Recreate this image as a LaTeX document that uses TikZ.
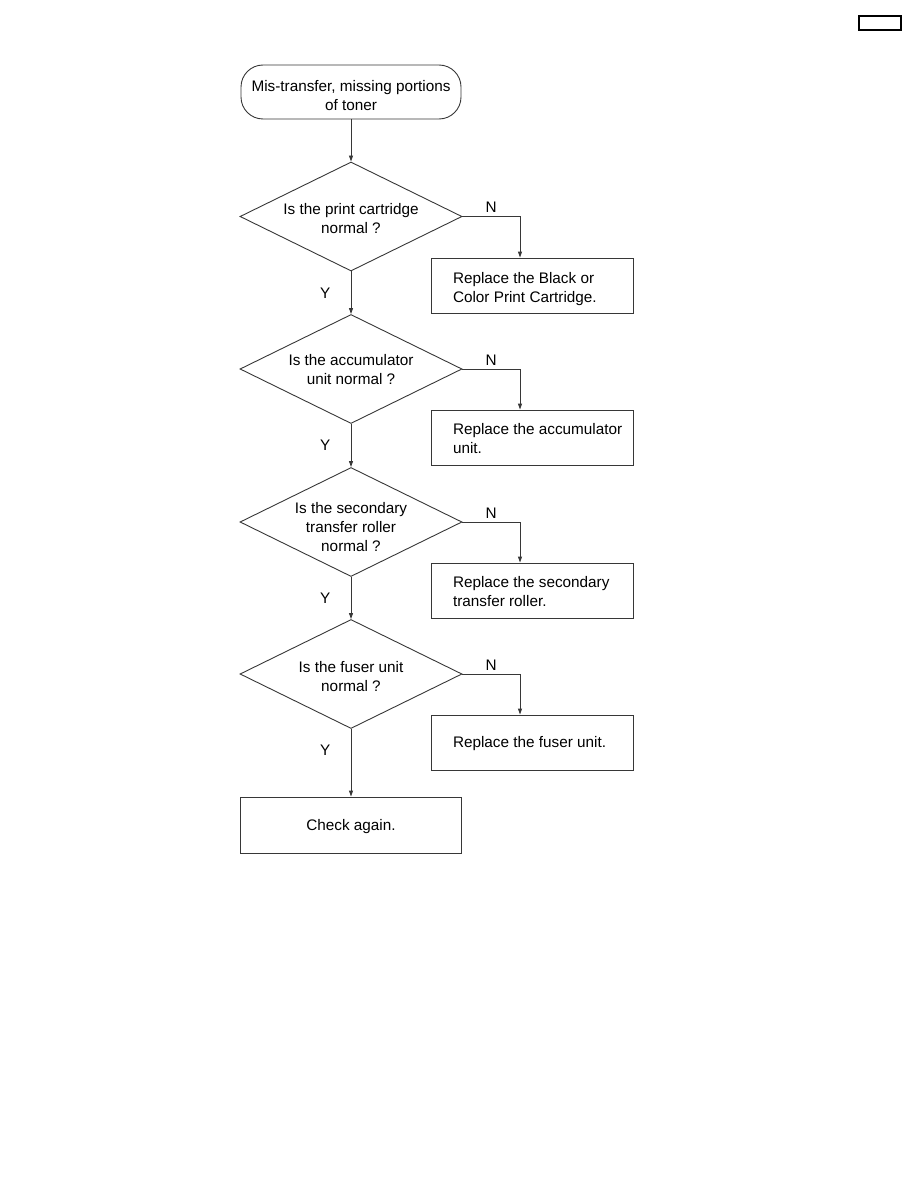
\documentclass[tikz,border=0pt]{standalone}
\usepackage{fontspec}
\setmainfont{Liberation Sans}
\usetikzlibrary{arrows.meta, shapes.geometric, positioning}
\definecolor{lineGray}{RGB}{55, 55, 55}
% text block, moved down a little inside its shape
\newcommand{\midtext}[2][4pt]{\raisebox{-#1}[\dimexpr\height-5pt][\dimexpr\depth-5pt]{\begin{tabular}{@{}c@{}}#2\end{tabular}}}
\newcommand{\fixtext}[2][3pt]{\raisebox{-#1}[\height][\depth]{\makebox[180pt][l]{\begin{tabular}{@{\hspace{11pt}}l@{}}#2\end{tabular}}}}

\begin{document}
\begin{tikzpicture}[x=1pt, y=-1pt, line width=0.9pt,
    every node/.style={font=\fontsize{15.3}{19}\selectfont},
    startbox/.style={draw=lineGray, rectangle, rounded corners=22pt, minimum width=220pt, minimum height=54pt, inner sep=0pt},
    askbox/.style={draw=lineGray, diamond, aspect=2, minimum width=222pt, minimum height=109pt, inner sep=0pt},
    fixbox/.style={draw=lineGray, rectangle, minimum width=202pt, minimum height=55pt, inner xsep=11pt, inner ysep=0pt},
    endbox/.style={draw=lineGray, rectangle, minimum width=221pt, minimum height=56pt, inner sep=0pt},
    flow/.style={draw=lineGray, -{Triangle[length=6pt, width=4pt]}},
    ylabel/.style={left=17pt},
    nlabel/.style={above}]
  \useasboundingbox (0,0) rectangle (918,1188);

  % page box
  \node[draw, line width=1.5pt, minimum width=42pt, minimum height=14pt, inner sep=0pt] (pagebox) at (880,23) {};

  % main column
  \node[startbox] (start) at (351,92) {\midtext[5pt]{Mis-transfer, missing portions\\of toner}};
  \node[askbox] (cart) at (351,216.5) {\midtext{Is the print cartridge\\normal ?}};
  \node[askbox] (accu) at (351,369) {\midtext[2pt]{Is the accumulator\\unit normal ?}};
  \node[askbox] (roll) at (351,522) {\midtext[7pt]{Is the secondary\\transfer roller\\normal ?}};
  \node[askbox] (fuse) at (351,674) {\midtext{Is the fuser unit\\normal ?}};
  \node[endbox] (again) at (351,825) {\midtext[2pt]{Check again.}};

  % replace boxes
  \node[fixbox] (newcart) at (532,285.5) {\fixtext[4pt]{Replace the Black or\\Color Print Cartridge.}};
  \node[fixbox] (newaccu) at (532,437.5) {\fixtext{Replace the accumulator\\unit.}};
  \node[fixbox] (newroll) at (532,590.5) {\fixtext{Replace the secondary\\transfer roller.}};
  \node[fixbox] (newfuse) at (532,742.5) {\fixtext[1.5pt]{Replace the fuser unit.}};

  % Y branches
  \draw[flow] (start) -- (cart);
  \draw[flow] (cart) -- node[ylabel] {Y} (accu);
  \draw[flow] (accu) -- node[ylabel] {Y} (roll);
  \draw[flow] (roll) -- node[ylabel] {Y} (fuse);
  \draw[flow] (fuse) -- node[ylabel, pos=0.32] {Y} (again);

  % N branches
  \draw[flow] (cart.east) -| node[nlabel, pos=0.25] {N} ([xshift=-12pt]newcart.north);
  \draw[flow] (accu.east) -| node[nlabel, pos=0.25] {N} ([xshift=-12pt]newaccu.north);
  \draw[flow] (roll.east) -| node[nlabel, pos=0.25] {N} ([xshift=-12pt]newroll.north);
  \draw[flow] (fuse.east) -| node[nlabel, pos=0.25] {N} ([xshift=-12pt]newfuse.north);
\end{tikzpicture}
\end{document}
